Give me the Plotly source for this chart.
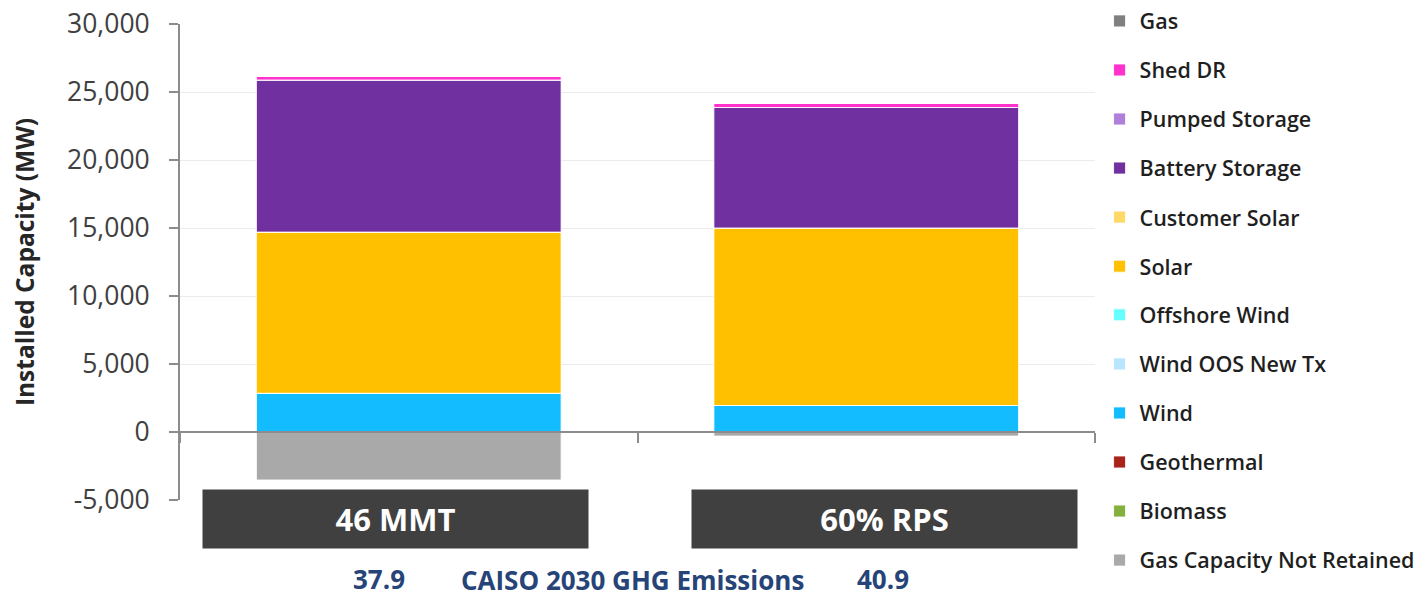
import plotly.graph_objects as go

categories = ["46 MMT", "60% RPS"]

# stack order from bottom to top
series_names = [
    "Gas Capacity Not Retained", "Biomass", "Geothermal", "Wind",
    "Wind OOS New Tx", "Offshore Wind", "Solar", "Customer Solar",
    "Battery Storage", "Pumped Storage", "Shed DR", "Gas",
]
gas_not_retained = [-3530, -300]
biomass = [0, 0]
geothermal = [0, 0]
wind = [2850, 1950]
wind_oos = [0, 0]
offshore_wind = [0, 0]
solar = [11850, 13050]
customer_solar = [0, 0]
battery = [11180, 8860]
pumped = [0, 0]
shed_dr = [260, 300]
gas = [0, 0]
series_values = [gas_not_retained, biomass, geothermal, wind, wind_oos,
                 offshore_wind, solar, customer_solar, battery, pumped,
                 shed_dr, gas]
series_colors = ["#A9A9A9", "#86B03E", "#A9231B", "#12BCFF", "#B8E6FF",
                 "#66FFFF", "#FFC000", "#FFD966", "#7030A0", "#B07FDC",
                 "#FF33CC", "#7F7F7F"]

y_tickvals = [-5000, 0, 5000, 10000, 15000, 20000, 25000, 30000]
y_ticktext = ["-5,000", "0", "5,000", "10,000", "15,000", "20,000", "25,000", "30,000"]

emissions = ["37.9", "40.9"]
emissions_label = "CAISO 2030 GHG Emissions"

FONT = "Open Sans"
LEG_FONT = dict(family=FONT, size=21.5, color="#1F1F1F", weight=600)

fig = go.Figure()
n = len(series_names)
for i, (name, vals, col) in enumerate(zip(series_names, series_values, series_colors)):
    fig.add_trace(go.Bar(
        x=categories, y=vals, name=name, legendgroup=name, legendrank=n - i,
        legend="legend2" if i < 6 else "legend",
        marker=dict(color=col, line=dict(color="rgba(255,255,255,0.85)", width=1)),
    ))

fig.update_layout(
    width=1428, height=598,
    margin=dict(l=180, r=333, t=24, b=98, autoexpand=False),
    barmode="relative",
    bargap=0.334,
    plot_bgcolor="white", paper_bgcolor="white",
    font=dict(family=FONT, color="#404040"),
    showlegend=True,
    legend=dict(
        traceorder="grouped", tracegroupgap=18.1,
        x=1.005, xanchor="left", y=1.0495, yanchor="top",
        font=LEG_FONT, bgcolor="rgba(0,0,0,0)",
    ),
    legend2=dict(
        traceorder="grouped", tracegroupgap=18.1,
        x=1.005, xanchor="left", y=0.432, yanchor="top",
        font=LEG_FONT, bgcolor="rgba(0,0,0,0)",
    ),
)

fig.update_yaxes(
    automargin=False,
    range=[-5000, 30000],
    tickvals=y_tickvals, ticktext=y_ticktext,
    tickfont=dict(family=FONT, size=26.5, color="#404040"),
    showgrid=True, gridcolor="#EBEBEB", gridwidth=1,
    zeroline=False,
    showline=True, linecolor="#8C8C8C", linewidth=2,
    ticks="outside", ticklen=9, tickcolor="#8C8C8C", tickwidth=2,
    ticklabelstandoff=14,
    title=dict(text="<b>Installed Capacity (MW)</b>",
               font=dict(family=FONT, size=24.5, color="#262626"), standoff=26),
)

fig.update_xaxes(
    automargin=False,
    anchor="free", position=(0 - (-5000)) / 35000,
    showticklabels=False,
    showline=True, linecolor="#8C8C8C", linewidth=2,
    ticks="outside", tickson="boundaries", ticklen=10, tickcolor="#8C8C8C", tickwidth=2,
    showgrid=False, zeroline=False,
)

# category label boxes
box_shifts = [-13, 18]
for cat, sh in zip(categories, box_shifts):
    fig.add_annotation(
        x=cat, xref="x", y=-0.04, yref="paper", xshift=sh,
        text=f"<b>{cat}</b>", showarrow=False,
        width=385, height=58, bgcolor="#404040", borderpad=0,
        font=dict(family=FONT, size=31, color="white"),
        xanchor="center", yanchor="middle",
    )

blue = "#264478"
for txt, x, y in [(f"<b>{emissions[0]}</b>", 0.217, -0.166),
                  (f"<b>{emissions_label}</b>", 0.495, -0.168),
                  (f"<b>{emissions[1]}</b>", 0.768, -0.1665)]:
    fig.add_annotation(x=x, y=y, xref="paper", yref="paper", text=txt,
                       showarrow=False, xanchor="center", yanchor="middle",
                       font=dict(family=FONT, size=26, color=blue))

fig.write_html("out.html", config={"displayModeBar": False},
               post_script="document.body.style.margin='0';")
